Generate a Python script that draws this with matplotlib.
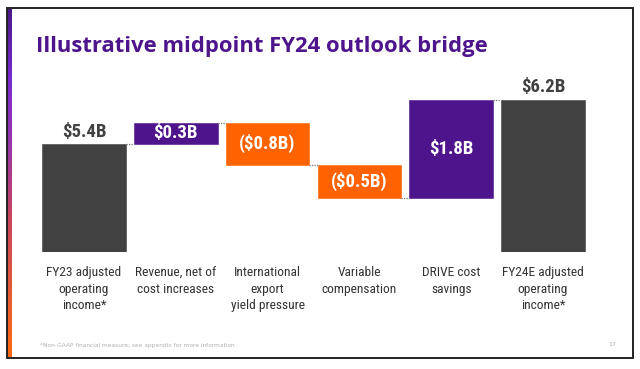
import matplotlib
matplotlib.use("Agg")
import matplotlib.pyplot as plt
from matplotlib import font_manager
from matplotlib.colors import LinearSegmentedColormap
from matplotlib.patches import Rectangle
import numpy as np

# ---- data ----
categories = ["FY23 adjusted\noperating\nincome*",
              "Revenue, net of\ncost increases",
              "International\nexport\nyield pressure",
              "Variable\ncompensation",
              "DRIVE cost\nsavings",
              "FY24E adjusted\noperating\nincome*"]
value_labels = ["$5.4B", "$0.3B", "($0.8B)", "($0.5B)", "$1.8B", "$6.2B"]
# illustrative (not-to-scale) step heights as drawn on the slide
steps = [5.4, 1.08, -2.12, -1.62, 4.89]
kinds = ["total", "up", "down", "down", "up", "total"]

title = "Illustrative midpoint FY24 outlook bridge"
footnote = "*Non-GAAP financial measure; see appendix for more information"
page_no = "17"

# ---- fonts ----
avail = {f.name for f in font_manager.fontManager.ttflist}
narrow = next((f for f in ["Liberation Sans Narrow", "Roboto Condensed",
                           "Open Sans Condensed", "DejaVu Sans"] if f in avail), "DejaVu Sans")
title_font = next((f for f in ["Open Sans", "Lato", "DejaVu Sans"] if f in avail), "DejaVu Sans")

GRAY = "#414141"
PURPLE = "#4D148C"
ORANGE = "#FF6200"
colors = {"total": GRAY, "up": PURPLE, "down": ORANGE}

W, H = 640, 369
fig = plt.figure(figsize=(W / 100, H / 100), dpi=100)
fig.patch.set_facecolor("white")

# slide frame
fig.add_artist(Rectangle((6.5 / W, 1 - 358 / H), (633 - 6.5) / W, (358 - 8) / H,
                         transform=fig.transFigure, fill=False,
                         edgecolor="#222222", linewidth=1.4))
# left gradient strip
gax = fig.add_axes([7.2 / W, 1 - 357.5 / H, 5 / W, (357.5 - 8.5) / H])
cmap = LinearSegmentedColormap.from_list(
    "fx", ["#4a1a86", "#7a2ad0", "#9a38a8", "#c8445e", "#e25a3a", "#ff6a10"])
gax.imshow(np.linspace(0, 1, 256).reshape(-1, 1), aspect="auto", cmap=cmap)
gax.axis("off")

# title
fig.text(36 / W, 1 - 51.7 / H, title, fontsize=15.8, fontweight="bold",
         color=PURPLE, family=title_font, va="baseline", ha="left")

# chart axes: x from -0.5..5.5 over px 38..589 ; y 0 at px 252.3, 20px per unit
ax = fig.add_axes([38.1 / W, 1 - 252.3 / H, 550.8 / W, 200 / H])
ax.set_xlim(-0.5, 5.5)
ax.set_ylim(0, 10)
ax.axis("off")

bw = 0.91
level = 0.0
bottoms, tops = [], []
for i, k in enumerate(kinds):
    if k == "total":
        b, t = 0.0, (steps[0] if i == 0 else level)
        level = t
    else:
        s = steps[i]
        b, t = (level, level + s) if s > 0 else (level + s, level)
        level += s
    bottoms.append(b)
    tops.append(t)
    ax.bar(i, t - b, bottom=b, width=bw, color=colors[k], edgecolor=colors[k],
           linewidth=0.4)

# connectors
lev = 0.0
levels = []
for i, k in enumerate(kinds[:-1]):
    lev = steps[0] if i == 0 else lev + steps[i]
    levels.append(lev)
for i, lv in enumerate(levels):
    ax.plot([i + bw / 2, i + 1 - bw / 2], [lv, lv], ls=(0, (1, 1)),
            color="#777777", lw=0.9)

# value labels
for i, k in enumerate(kinds):
    if k == "total":
        ax.text(i, tops[i] + 0.17, value_labels[i], ha="center", va="bottom",
                fontsize=13.5, fontweight="bold", color=GRAY, family=narrow,
                fontstretch="condensed")
    else:
        ax.text(i, (bottoms[i] + tops[i]) / 2, value_labels[i], ha="center",
                va="center", fontsize=13.5, fontweight="bold", color="white",
                family=narrow, fontstretch="condensed")

# category labels
for i, c in enumerate(categories):
    ax.text(i, -0.7, c, ha="center", va="top", fontsize=9.6, color="#333333",
            family=narrow, fontstretch="condensed", linespacing=1.33)

# footer
fig.text(40 / W, 1 - 345 / H, footnote, fontsize=4.2, color="#b0b0b0",
         va="center", ha="left")
fig.text(612 / W, 1 - 345 / H, page_no, fontsize=4.5, color="#b0b0b0",
         va="center", ha="center")

fig.savefig("out.png", dpi=100, facecolor="white")
